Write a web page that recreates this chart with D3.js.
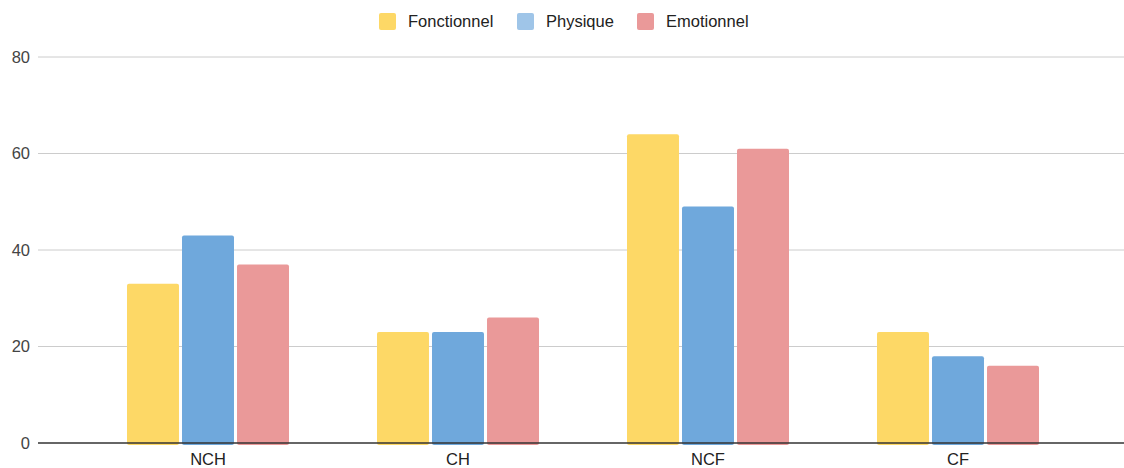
<!DOCTYPE html>
<html>
<head>
<meta charset="utf-8">
<script src="https://cdn.jsdelivr.net/npm/d3@7"></script>
<style>
  body { margin: 0; background: #fff; }
  text { font-family: "Liberation Sans", Arial, sans-serif; }
</style>
</head>
<body>
<svg width="1124" height="468"></svg>
<script>
const categories = ["NCH", "CH", "NCF", "CF"];
const seriesNames = ["Fonctionnel", "Physique", "Emotionnel"];
const fonctionnel = [33, 23, 64, 23];
const physique = [43, 23, 49, 18];
const emotionnel = [37, 26, 61, 16];
const yTicks = [0, 20, 40, 60, 80];

const barColors = ["#fdd866", "#6fa8dc", "#ea9999"];
const legendColors = ["#fdd866", "#9fc5e8", "#ea9999"];

const seriesValues = [fonctionnel, physique, emotionnel];
const rows = categories.map((c, i) => ({
  cat: c,
  vals: seriesNames.map((s, j) => ({ key: s, idx: j, value: seriesValues[j][i] }))
}));

const svg = d3.select("svg");
const gridLeft = 38, gridRight = 1124;
const fs = 16.5;

const y = d3.scaleLinear().domain([0, 80]).range([443, 57]);
const x0 = d3.scaleBand().domain(categories).range([83, 1083]);
const x1 = d3.scaleBand().domain(seriesNames).range([44, 206]).paddingInner(0.055);

// gridlines
svg.append("g").selectAll("line")
  .data(yTicks.filter(t => t > 0))
  .join("line")
  .attr("x1", gridLeft).attr("x2", gridRight)
  .attr("y1", d => y(d)).attr("y2", d => y(d))
  .attr("stroke", "#cccccc").attr("stroke-width", 1);

// y labels
svg.append("g").selectAll("text")
  .data(yTicks)
  .join("text")
  .attr("x", 30).attr("y", d => y(d))
  .attr("dy", "0.35em")
  .attr("text-anchor", "end")
  .attr("font-size", fs)
  .attr("fill", "#444")
  .text(d => d);

// bars
const groups = svg.append("g").selectAll("g")
  .data(rows)
  .join("g")
  .attr("transform", d => `translate(${x0(d.cat)},0)`);

groups.selectAll("rect")
  .data(d => d.vals)
  .join("rect")
  .attr("x", d => x1(d.key))
  .attr("width", x1.bandwidth())
  .attr("y", d => y(d.value))
  .attr("height", d => y(0) - y(d.value) + 2)
  .attr("rx", 2)
  .attr("fill", d => barColors[d.idx]);

// baseline
svg.append("line")
  .attr("x1", gridLeft).attr("x2", gridRight)
  .attr("y1", y(0)).attr("y2", y(0))
  .attr("stroke", "#333").attr("stroke-width", 1.5);

// x labels
svg.append("g").selectAll("text")
  .data(categories)
  .join("text")
  .attr("x", d => x0(d) + x0.bandwidth() / 2)
  .attr("y", 459).attr("dy", "0.35em")
  .attr("text-anchor", "middle")
  .attr("font-size", fs)
  .attr("fill", "#222")
  .text(d => d);

// legend
const legendX = [379, 517, 637];
const legend = svg.append("g").selectAll("g")
  .data(seriesNames)
  .join("g")
  .attr("transform", (d, i) => `translate(${legendX[i]},13)`);
legend.append("rect")
  .attr("width", 17).attr("height", 17).attr("rx", 2)
  .attr("fill", (d, i) => legendColors[i]);
legend.append("text")
  .attr("x", 29).attr("y", 8.5).attr("dy", "0.35em")
  .attr("font-size", fs)
  .attr("fill", "#222")
  .text(d => d);
</script>
</body>
</html>
